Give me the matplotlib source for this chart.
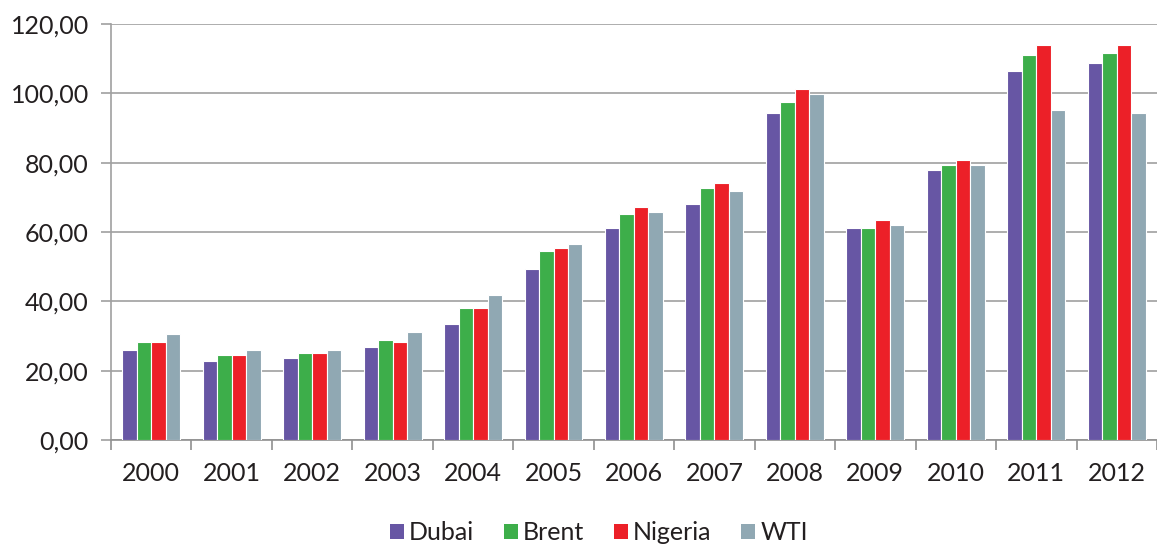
import numpy as np
import matplotlib
matplotlib.use("Agg")
import matplotlib.pyplot as plt
from matplotlib.patches import Patch
from matplotlib.ticker import FuncFormatter, FixedLocator

plt.rcParams['font.family'] = ['Lato', 'DejaVu Sans']

years = ["2000", "2001", "2002", "2003", "2004", "2005", "2006",
         "2007", "2008", "2009", "2010", "2011", "2012"]
dubai   = [26.0, 22.9, 23.7, 26.8, 33.5, 49.3, 61.3, 68.1, 94.4, 61.3, 77.8, 106.5, 108.7]
brent   = [28.2, 24.4, 25.2, 28.9, 38.0, 54.5, 65.1, 72.6, 97.4, 61.3, 79.4, 111.0, 111.7]
nigeria = [28.2, 24.4, 25.2, 28.2, 38.0, 55.3, 67.3, 74.1, 101.2, 63.5, 80.8, 114.0, 114.0]
wti     = [30.5, 26.0, 26.0, 31.2, 41.8, 56.6, 65.8, 71.9, 99.7, 62.0, 79.4, 95.1, 94.4]

series = [("Dubai", dubai, "#6756A4"),
          ("Brent", brent, "#3DAE4A"),
          ("Nigeria", nigeria, "#EC2028"),
          ("WTI", wti, "#90A8B3")]

fig = plt.figure(figsize=(11.57, 5.47), dpi=100)
ax = fig.add_axes([0.0959, 0.1956, 0.9041, 0.7605])

x = np.arange(len(years))
bw = 0.18
for i, (name, vals, col) in enumerate(series):
    ax.bar(x + (i - 1.5) * bw, vals, width=bw, color=col,
           edgecolor="white", linewidth=0.8, zorder=3)

ax.set_xlim(-0.5, len(years) - 0.5)
ax.set_ylim(0, 120)
ax.set_yticks(np.arange(0, 121, 20))
ax.yaxis.set_major_formatter(FuncFormatter(lambda v, p: f"{v:.2f}".replace(".", ",")))
ax.grid(axis="y", color="#A0A0A0", linewidth=1.2, zorder=0)

# category labels centered, ticks at boundaries
ax.set_xticks(x)
ax.set_xticklabels(years)
ax.tick_params(axis="x", length=0, pad=16)
ax.xaxis.set_minor_locator(FixedLocator(np.arange(-0.5, len(years), 1.0)))
ax.tick_params(axis="x", which="minor", length=7, width=1.2, color="#909090")
ax.tick_params(axis="y", length=7, width=1.2, color="#A0A0A0", pad=9)
ax.tick_params(labelsize=18, labelcolor="#231F20")

for s in ["top", "right"]:
    ax.spines[s].set_visible(False)
ax.spines["left"].set_color("#A0A0A0")
ax.spines["left"].set_linewidth(1.2)
ax.spines["bottom"].set_color("#909090")
ax.spines["bottom"].set_linewidth(1.2)

handles = [Patch(facecolor=c, edgecolor="none", label=n) for n, _, c in series]
fig.legend(handles=handles, loc="center", bbox_to_anchor=(599 / 1157, 1 - 533 / 547),
           ncol=4, frameon=False, fontsize=18, handlelength=0.55, handleheight=0.55,
           handletextpad=0.2, columnspacing=1.2, labelcolor="#231F20")

fig.savefig("out.png", dpi=100)
